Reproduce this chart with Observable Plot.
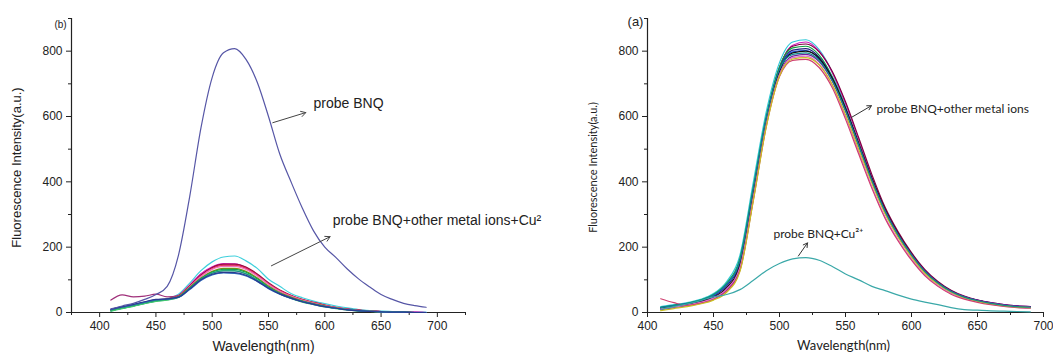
<!DOCTYPE html>
<html><head><meta charset="utf-8">
<script src="https://cdn.jsdelivr.net/npm/d3@7"></script>
<script src="https://cdn.jsdelivr.net/npm/@observablehq/plot@0.6"></script>
<style>
body{margin:0;background:#fff;}
#wrap{display:flex;width:1053px;height:356px;overflow:hidden;}
#wrap svg{flex:none;}
</style></head><body><div id="wrap"></div>
<script>
// ---------- data ----------
const wavelengths = [410,420,430,440,450,460,470,480,490,500,510,520,530,540,550,560,570,580,590,600,610,620,630,640,650,660,670,680,690];

// Panel (b): probe BNQ and probe BNQ + other metal ions + Cu2+
const probeBNQ = [11,20,28,40,55,80,175,355,565,720,795,808,775,705,600,485,400,320,250,200,168,133,103,78,55,40,28,21,16];
const bL1  = [5,13,20,28,36,42,56,90,128,155,170,173,158,135,102,80,58,45,35,27,20,14,9,6,4,3,2,1,1];
const bL2  = [38,54,48,50,56,48,52,82,118,138,147,147,137,115,88,67,51,39,30,22,15,10,7,4,3,2,1,1,0];
const bL3  = [6,14,21,29,36,41,52,84,118,140,150,149,138,116,88,66,50,38,29,21,15,10,6,4,3,2,1,1,0];
const bL4  = [7,15,22,30,37,41,51,82,115,138,148,148,139,118,91,69,53,40,31,23,16,11,7,5,3,2,1,0,0];
const bL5  = [8,16,23,31,38,42,50,80,112,134,144,144,135,114,88,67,51,39,30,22,15,10,7,4,3,2,1,0,0];
const bL6  = [6,14,21,29,36,40,49,79,110,132,141,141,132,112,86,65,50,38,29,21,15,10,6,4,2,1,1,0,0];
const bL7  = [7,15,22,30,37,41,49,77,106,126,135,135,126,106,81,61,47,36,27,20,14,9,6,4,2,1,1,0,0];
const bL8  = [5,13,20,28,35,39,47,75,104,124,132,132,123,103,78,59,45,34,26,19,13,8,5,3,2,1,1,0,0];
const bL9  = [4,12,19,27,34,38,46,73,101,121,129,128,119,99,75,57,43,32,24,17,12,8,5,3,2,1,0,0,0];
const bL10 = [8,16,23,31,38,41,48,74,102,120,127,127,118,99,76,58,44,34,26,19,13,9,6,4,2,1,1,0,0];
const bL11 = [9,17,24,32,39,41,46,70,98,115,121,120,112,95,73,56,43,33,25,18,13,9,6,4,2,1,1,0,0];
const bL12 = [10,18,25,33,40,42,47,72,100,117,123,122,114,96,74,57,44,33,25,18,13,8,5,3,2,1,1,0,0];
const bNames  = ["m1","m2","m3","m4","m5","m6","m7","m8","m9","m10","m11","m12","probe BNQ"];
const bColors = ["#3fd0dc","#a0307a","#e020d8","#9a1040","#e03050","#f070c0","#8a8a10","#10a050","#40c870","#1a8a8a","#3070c0","#2a3a90","#5656a6"];

// Panel (a): probe BNQ + other metal ions, and probe BNQ + Cu2+
const aS1  = [18,24,30,40,58,95,175,395,615,765,828,835,805,735,630,515,400,305,232,172,122,88,62,46,35,27,21,17,15];
const aS2  = [10,16,22,30,44,70,135,350,585,748,818,828,800,735,640,528,415,318,242,180,130,92,66,48,37,29,23,19,17];
const aS3  = [12,18,24,32,46,74,140,355,590,750,815,822,798,738,645,535,422,322,246,183,132,95,68,50,38,30,24,20,18];
const aS4  = [16,22,28,38,55,90,165,380,600,752,810,815,788,722,628,518,405,310,237,176,126,90,64,47,36,28,22,18,16];
const aS5  = [14,20,26,35,50,82,152,368,592,744,803,808,782,718,625,516,408,312,238,177,127,91,65,48,37,29,23,19,17];
const aS6  = [15,21,27,36,52,86,158,372,594,742,798,802,776,712,618,510,402,306,233,174,124,89,63,47,36,28,22,18,16];
const aS7  = [13,19,25,33,47,76,145,360,585,738,795,800,778,716,624,517,410,315,240,179,128,92,66,48,37,29,23,19,17];
const aS8  = [9,15,21,29,42,68,132,345,575,730,785,790,768,708,618,512,406,312,238,178,128,92,66,49,38,30,24,20,18];
const aS9  = [11,17,23,31,44,72,138,350,578,728,780,785,760,696,600,492,385,292,222,164,116,83,59,43,33,25,20,16,14];
const aS10 = [42,30,22,28,40,66,128,340,570,722,772,775,750,688,592,485,380,288,218,160,113,80,56,41,31,24,19,15,13];
const aS11 = [6,12,18,26,38,62,125,338,568,724,776,780,758,698,606,500,396,302,230,170,121,87,62,45,35,27,21,17,15];
const aS12 = [15,21,27,37,54,88,160,375,596,745,790,795,772,710,618,512,404,310,236,176,126,90,64,47,36,28,22,18,16];
const aCu  = [10,18,26,36,48,55,70,98,128,150,164,168,160,141,118,100,80,67,53,41,32,24,15,9,7,5,4,3,2];
const aNames  = ["s1","s2","s3","s4","s5","s6","s7","s8","s9","s10","s11","s12","Cu"];
const aColors = ["#30c8d8","#d020c0","#800040","#10a040","#202080","#2050e0","#111111","#7020a0","#e070c8","#d04070","#c8c020","#108a8a","#3aa8a8"];

// ticks
const bXMajor = [400,450,500,550,600,650,700];
const bXMinor = [375,425,475,525,575,625,675,725];
const aXMajor = [400,450,500,550,600,650,700];
const aXMinor = [425,475,525,575,625,675];
const yMajor = [0,200,400,600,800];
const yMinor = [100,300,500,700,900];

// ---------- build ----------
function longData(names, arrays) {
  return names.flatMap((n, i) => wavelengths.map((w, j) => ({series: n, wl: w, value: arrays[i][j]})));
}
const bData = longData(bNames, [bL1,bL2,bL3,bL4,bL5,bL6,bL7,bL8,bL9,bL10,bL11,bL12,probeBNQ]);
const aData = longData(aNames, [aS1,aS2,aS3,aS4,aS5,aS6,aS7,aS8,aS9,aS10,aS11,aS12,aCu]);

const AX = "'Liberation Sans', Arial, sans-serif";
const LT = "Lato, sans-serif";

function axes(xdom, xMaj, xMin) {
  return [
    Plot.axisX({ticks: xMin, tickSize: 3, tickFormat: () => "", label: null, stroke: "#222"}),
    Plot.axisX({ticks: xMaj, tickSize: 5, tickPadding: 4, label: null, fontSize: 12, fontFamily: AX, stroke: "#222", fill: "#222"}),
    Plot.axisY({ticks: yMinor, tickSize: 3, tickFormat: () => "", label: null, stroke: "#222"}),
    Plot.axisY({ticks: yMajor, tickSize: 5, tickPadding: 4, label: null, fontSize: 12, fontFamily: AX, stroke: "#222", fill: "#222"}),
    Plot.ruleY([0], {stroke: "#222", strokeWidth: 1.2}),
    Plot.ruleX([xdom[0]], {stroke: "#222", strokeWidth: 1.2})
  ];
}

const bXdom = [375, 725];
const left = Plot.plot({
  width: 530, height: 356,
  marginLeft: 71, marginRight: 65, marginTop: 18, marginBottom: 44,
  style: {fontFamily: AX, fontSize: "12px", background: "transparent", overflow: "visible", color: "#222"},
  x: {domain: bXdom},
  y: {domain: [0, 900]},
  color: {domain: bNames, range: bColors},
  marks: [
    ...axes(bXdom, bXMajor, bXMinor),
    Plot.line(bData, {x: "wl", y: "value", z: "series", stroke: "series", strokeWidth: 1.2, curve: "monotone-x"}),
    Plot.text(["Wavelength(nm)"], {frameAnchor: "bottom", dy: 38.5, dx: -5, fontSize: 14, fontFamily: AX, fill: "#222"}),
    Plot.text(["Fluorescence Intensity(a.u.)"], {frameAnchor: "left", textAnchor: "middle", rotate: -90, dx: -55, dy: 2, fontSize: 13, fontFamily: AX, fill: "#222"}),
    Plot.text(["(b)"], {frameAnchor: "top-left", textAnchor: "middle", dx: -11, dy: 2, fontSize: 10, fontFamily: AX, fill: "#222"}),
    Plot.text(["probe BNQ"], {x: () => 590, y: () => 640, textAnchor: "start", fontSize: 14, fontFamily: AX, fill: "#222"}),
    Plot.text(["probe BNQ+other metal ions+Cu²"], {x: () => 607, y: () => 281, textAnchor: "start", fontSize: 14, fontFamily: AX, fill: "#222"}),
    Plot.arrow([0], {x1: () => 553.8, y1: () => 581, x2: () => 583.1, y2: () => 612, stroke: "#444", strokeWidth: 1, headLength: 8}),
    Plot.arrow([0], {x1: () => 552.6, y1: () => 143, x2: () => 604.7, y2: () => 232, stroke: "#444", strokeWidth: 1, headLength: 8})
  ]
});

const aXdom = [400, 700];
const right = Plot.plot({
  width: 523, height: 356,
  marginLeft: 117, marginRight: 10, marginTop: 18, marginBottom: 44,
  style: {fontFamily: AX, fontSize: "12px", background: "transparent", overflow: "visible", color: "#222"},
  x: {domain: aXdom},
  y: {domain: [0, 900]},
  color: {domain: aNames, range: aColors},
  marks: [
    ...axes(aXdom, aXMajor, aXMinor),
    Plot.line(aData, {x: "wl", y: "value", z: "series", stroke: "series", strokeWidth: 1.2, curve: "monotone-x"}),
    Plot.text(["Wavelength(nm)"], {frameAnchor: "bottom", dy: 37.5, dx: -2, fontSize: 13, fontFamily: LT, fill: "#222"}),
    Plot.text(["Fluorescence Intensity(a.u.)"], {frameAnchor: "left", textAnchor: "middle", rotate: -90, dx: -54, dy: 2, fontSize: 11, fontFamily: LT, fill: "#222"}),
    Plot.text(["(a)"], {frameAnchor: "top-left", textAnchor: "middle", dx: -12, dy: -2, fontSize: 13, fontFamily: AX, fill: "#222"}),
    Plot.text(["probe BNQ+other metal ions"], {x: () => 573.5, y: () => 624, textAnchor: "start", fontSize: 12, fontFamily: LT, fill: "#222"}),
    Plot.text(["probe BNQ+Cu²⁺"], {x: () => 495.4, y: () => 240, textAnchor: "start", fontSize: 12, fontFamily: LT, fill: "#222"}),
    Plot.arrow([0], {x1: () => 554.4, y1: () => 597, x2: () => 569.6, y2: () => 633, stroke: "#333", strokeWidth: 1, headLength: 7}),
    Plot.arrow([0], {x1: () => 514.3, y1: () => 173, x2: () => 521.2, y2: () => 213, stroke: "#333", strokeWidth: 1, headLength: 7})
  ]
});

const wrap = document.getElementById("wrap");
wrap.appendChild(left);
wrap.appendChild(right);
</script>
</body></html>
